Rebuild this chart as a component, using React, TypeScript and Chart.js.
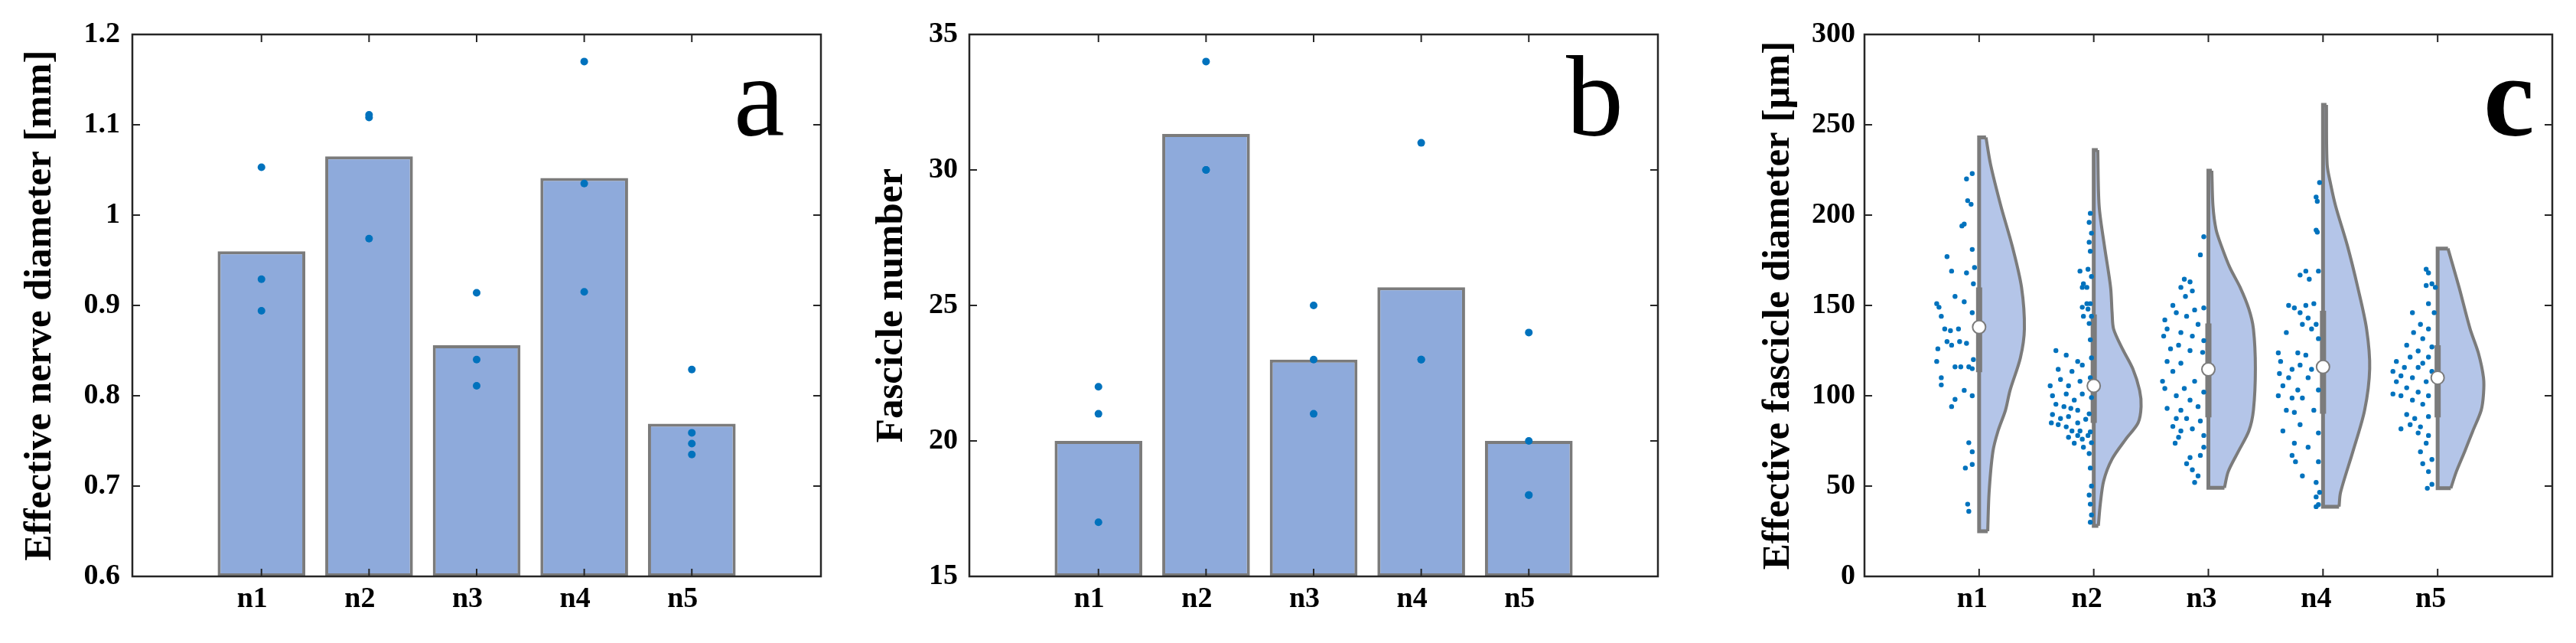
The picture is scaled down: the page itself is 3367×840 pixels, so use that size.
import React, { useEffect, useRef } from 'react';
import { Chart, registerables } from 'chart.js';

Chart.register(...registerables);

// ---------- shared ----------
const categories = ['n1', 'n2', 'n3', 'n4', 'n5'];
const categoryPositions = [1, 2, 3, 4, 5];

// ---------- panel a: effective nerve diameter [mm] ----------
const nerveTicks = [0.6, 0.7, 0.8, 0.9, 1.0, 1.1, 1.2];
const nerveMeans = [0.96, 1.065, 0.856, 1.041, 0.769];
const nerveSamples = [
  [1.053, 0.929, 0.894],
  [1.111, 1.108, 0.974],
  [0.914, 0.84, 0.811],
  [1.17, 1.035, 0.915],
  [0.829, 0.759, 0.747, 0.735],
];

// ---------- panel b: fascicle number ----------
const fascicleTicks = [15, 20, 25, 30, 35];
const fascicleMeans = [20, 31.33, 23, 25.67, 20];
const fascicleSamples = [
  [22, 21, 17],
  [34, 30, 30],
  [25, 23, 21],
  [31, 23, 23],
  [24, 20, 18, 18],
];

// ---------- panel c: effective fascicle diameter [µm] ----------
const diameterTicks = [0, 50, 100, 150, 200, 250, 300];
const diameterMedians = [138, 105.5, 114.6, 116, 110];
const diameterQuartiles = [
  [113, 160],
  [85, 145],
  [88, 140],
  [90, 147],
  [88, 128],
];
// violin profiles: [value, half width in category units]
const violinN1 = [[25, 0.075], [46.5, 0.087], [69, 0.12], [80.5, 0.165], [92, 0.23], [103, 0.27], [121, 0.36], [137, 0.395], [160, 0.37], [182.6, 0.29], [205, 0.19], [228, 0.1], [243, 0.06]];
const violinN2 = [[28, 0.04], [40, 0.057], [53, 0.087], [65, 0.16], [76, 0.28], [85, 0.387], [94, 0.413], [103, 0.4], [115, 0.34], [126, 0.25], [137, 0.173], [146, 0.16], [160, 0.147], [183, 0.093], [205, 0.047], [236, 0.035]];
const violinN3 = [[49, 0.14], [58, 0.173], [69, 0.26], [80.5, 0.353], [92, 0.393], [115, 0.41], [137, 0.393], [148, 0.353], [160, 0.277], [171, 0.187], [183, 0.113], [192, 0.067], [205, 0.04], [224.6, 0.03]];
const violinN4 = [[38.6, 0.14], [46.5, 0.153], [69, 0.26], [92, 0.363], [115, 0.407], [137, 0.38], [160, 0.303], [183, 0.213], [205, 0.11], [217, 0.067], [228, 0.036], [261, 0.03]];
const violinN5 = [[48.8, 0.115], [58, 0.163], [69, 0.235], [80.5, 0.307], [92, 0.38], [101, 0.4], [110, 0.4], [123.7, 0.355], [137, 0.283], [160, 0.187], [181.5, 0.09]];
// jittered samples: [offset from category, value]
const dotsN1 = [[-0.06, 223], [-0.11, 220], [-0.1, 208], [-0.07, 206], [-0.13, 195], [-0.15, 194], [-0.28, 177], [-0.06, 181], [-0.24, 169], [-0.11, 168], [-0.04, 171], [-0.05, 162], [-0.37, 151], [-0.35, 149], [-0.21, 155], [-0.13, 152], [-0.33, 144], [-0.06, 146], [-0.3, 137], [-0.25, 136], [-0.18, 137], [-0.28, 130], [-0.17, 130], [-0.11, 129], [-0.36, 126], [-0.24, 128], [-0.37, 119], [-0.21, 116], [-0.16, 116], [-0.09, 116], [-0.06, 115], [-0.33, 110], [-0.33, 106], [-0.13, 103], [-0.06, 100], [-0.21, 98], [-0.24, 94], [-0.09, 74], [-0.12, 60], [-0.1, 40], [-0.09, 36], [-0.06, 69], [-0.06, 62], [-0.05, 120]];
const dotsN2 = [[-0.03, 201], [-0.04, 196], [-0.02, 190], [-0.04, 185], [-0.03, 180], [-0.05, 170], [-0.02, 166], [-0.06, 160], [-0.03, 151], [-0.05, 148], [-0.02, 144], [-0.04, 140], [-0.03, 131], [-0.02, 121], [-0.03, 110], [-0.02, 99], [-0.04, 90], [-0.03, 80], [-0.02, 74], [-0.04, 68], [-0.03, 60], [-0.02, 50], [-0.04, 45], [-0.03, 40], [-0.02, 34], [-0.03, 30], [-0.09, 162], [-0.1, 160], [-0.06, 151], [-0.1, 149], [-0.09, 144], [-0.12, 169], [-0.33, 125], [-0.24, 122.5], [-0.14, 119], [-0.31, 114.6], [-0.19, 113.5], [-0.1, 117], [-0.29, 109], [-0.38, 105.5], [-0.22, 105.5], [-0.12, 108], [-0.36, 100], [-0.24, 101], [-0.17, 97.6], [-0.1, 101], [-0.33, 95.3], [-0.26, 94], [-0.2, 93], [-0.14, 92], [-0.36, 89.6], [-0.29, 87.4], [-0.22, 88.5], [-0.14, 85], [-0.07, 87], [-0.31, 84], [-0.24, 82.8], [-0.19, 80.5], [-0.14, 78], [-0.1, 76], [-0.17, 73.7], [-0.09, 71.5], [-0.05, 78], [-0.12, 80.5], [-0.22, 77], [-0.37, 85]];
const dotsN3 = [[-0.04, 188], [-0.07, 178], [-0.21, 164.5], [-0.16, 163], [-0.24, 160], [-0.14, 158], [-0.2, 155], [-0.31, 150], [-0.28, 146], [-0.12, 147.5], [-0.04, 148.6], [-0.38, 142], [-0.19, 144], [-0.09, 139.5], [-0.36, 137], [-0.24, 135], [-0.39, 133], [-0.14, 133], [-0.04, 130.5], [-0.26, 128], [-0.33, 126], [-0.16, 125], [-0.05, 124], [-0.36, 119], [-0.24, 118], [-0.31, 113.5], [-0.4, 108], [-0.12, 108], [-0.38, 104], [-0.21, 104], [-0.04, 102], [-0.28, 100], [-0.16, 97.6], [-0.36, 93], [-0.24, 92], [-0.09, 94], [-0.28, 87.4], [-0.19, 87.4], [-0.07, 86], [-0.31, 83], [-0.24, 80.5], [-0.14, 81.7], [-0.26, 77], [-0.29, 73.7], [-0.04, 78], [-0.04, 71.5], [-0.07, 67], [-0.16, 65.8], [-0.19, 62.4], [-0.14, 59], [-0.09, 55.6], [-0.12, 52]];
const dotsN4 = [[-0.03, 218], [-0.06, 210], [-0.05, 207.6], [-0.06, 191.7], [-0.05, 190.6], [-0.04, 169], [-0.15, 169], [-0.2, 166.8], [-0.12, 164.5], [-0.3, 150], [-0.25, 148.6], [-0.15, 150], [-0.08, 151], [-0.2, 146], [-0.13, 143], [-0.06, 139.5], [-0.18, 139.5], [-0.32, 135], [-0.1, 137], [-0.04, 131.6], [-0.39, 123.7], [-0.22, 123.7], [-0.15, 122.5], [-0.37, 119], [-0.2, 117], [-0.1, 114.6], [-0.27, 114.6], [-0.38, 112.3], [-0.3, 110], [-0.13, 110], [-0.35, 105.5], [-0.22, 103.2], [-0.04, 103.2], [-0.39, 100], [-0.27, 98.7], [-0.18, 98.7], [-0.32, 92], [-0.25, 90.8], [-0.08, 92], [-0.35, 80.5], [-0.2, 84], [-0.04, 79.4], [-0.25, 73.7], [-0.13, 71.5], [-0.27, 67], [-0.24, 63.5], [-0.04, 63.5], [-0.18, 55.6], [-0.06, 52], [-0.03, 46.5], [-0.06, 44], [-0.04, 39.7], [-0.06, 38.6]];
const dotsN5 = [[-0.1, 170], [-0.08, 168], [-0.05, 162], [-0.1, 161], [-0.02, 160], [-0.22, 146], [-0.08, 151], [-0.03, 146], [-0.15, 139.5], [-0.08, 137], [-0.21, 135], [-0.13, 131.6], [-0.27, 128], [-0.05, 127], [-0.17, 124.8], [-0.08, 121.4], [-0.24, 121.4], [-0.36, 119], [-0.13, 118], [-0.29, 115.7], [-0.17, 115.7], [-0.05, 113.5], [-0.39, 113.5], [-0.32, 111], [-0.22, 110], [-0.36, 107.8], [-0.1, 107.8], [-0.27, 104.4], [-0.17, 102], [-0.39, 101], [-0.32, 100], [-0.08, 100], [-0.22, 97.6], [-0.13, 95.3], [-0.27, 89.6], [-0.2, 87.4], [-0.08, 88.5], [-0.24, 84], [-0.15, 82.8], [-0.32, 81.7], [-0.17, 79.4], [-0.08, 78], [-0.1, 73.7], [-0.15, 69], [-0.05, 64.7], [-0.13, 62.4], [-0.08, 58], [-0.05, 51], [-0.09, 48.8]];

const violins = [violinN1, violinN2, violinN3, violinN4, violinN5];
const diameterDots = [dotsN1, dotsN2, dotsN3, dotsN4, dotsN5];

// ---------- styling ----------
const SERIF = "'Liberation Serif', 'Times New Roman', Times, serif";
const AXIS_COLOR = '#262626';
const BAR_FILL = '#8eaadb';
const EDGE_GREY = '#7b7b7b';
const DOT_BLUE = '#0072bd';
const VIOLIN_FILL = '#b4c5e8';
const TICK_FONT = { family: SERIF, size: 38, weight: 'bold' as const };
const TITLE_FONT = { family: SERIF, size: 51, weight: 'bold' as const };

const matlabBox = {
  id: 'matlabBox',
  afterDatasetsDraw(chart: any) {
    const { ctx, chartArea, scales } = chart;
    const { left, right, top, bottom } = chartArea;
    const x = scales.x;
    const y = scales.y;
    const len = 10;
    ctx.save();
    ctx.strokeStyle = AXIS_COLOR;
    ctx.lineWidth = 2;
    ctx.beginPath();
    for (const t of x.ticks) {
      const px = x.getPixelForValue(t.value);
      ctx.moveTo(px, bottom);
      ctx.lineTo(px, bottom - len);
      ctx.moveTo(px, top);
      ctx.lineTo(px, top + len);
    }
    for (const t of y.ticks) {
      const py = y.getPixelForValue(t.value);
      ctx.moveTo(left, py);
      ctx.lineTo(left + len, py);
      ctx.moveTo(right, py);
      ctx.lineTo(right - len, py);
    }
    ctx.stroke();
    ctx.lineWidth = 2.5;
    ctx.strokeRect(left, top, right - left, bottom - top);
    ctx.restore();
  },
};

function panelLetter(text: string, dx: number, dy: number, weight: string) {
  return {
    id: 'panelLetter',
    afterDraw(chart: any) {
      const { ctx, chartArea } = chart;
      ctx.save();
      ctx.font = `${weight} 150px ${SERIF}`;
      ctx.fillStyle = '#000';
      ctx.textAlign = 'left';
      ctx.textBaseline = 'alphabetic';
      ctx.fillText(text, chartArea.right + dx, chartArea.top + dy);
      ctx.restore();
    },
  };
}

type AxisOpts = {
  xMin: number;
  xMax: number;
  yMin: number;
  yMax: number;
  yTicks: number[];
  yTitle: string;
  yFormat: (v: number) => string;
  leftWidth: number;
  titlePad: number;
  tickPad: number;
  labelOffset: number;
  rightPad: number;
};

function buildOptions(o: AxisOpts) {
  return {
    animation: false,
    responsive: false,
    maintainAspectRatio: false,
    events: [],
    layout: { padding: { left: 0, right: o.rightPad, top: 45, bottom: 0 } },
    plugins: { legend: { display: false }, tooltip: { enabled: false } },
    scales: {
      x: {
        type: 'linear',
        min: o.xMin,
        max: o.xMax,
        offset: false,
        grid: { display: false, drawTicks: false },
        border: { display: false },
        afterBuildTicks: (s: any) => {
          s.ticks = categoryPositions.map((v) => ({ value: v }));
        },
        afterFit: (s: any) => {
          s.height = 87;
        },
        ticks: {
          autoSkip: false,
          maxRotation: 0,
          padding: 7,
          labelOffset: o.labelOffset,
          color: '#000',
          font: TICK_FONT,
          callback: (_v: any, i: number) => categories[i],
        },
      },
      y: {
        type: 'linear',
        min: o.yMin,
        max: o.yMax,
        beginAtZero: false,
        grid: { display: false, drawTicks: false },
        border: { display: false },
        afterBuildTicks: (s: any) => {
          s.ticks = o.yTicks.map((v) => ({ value: v }));
        },
        afterFit: (s: any) => {
          s.width = o.leftWidth;
        },
        ticks: {
          padding: o.tickPad,
          color: '#000',
          font: TICK_FONT,
          callback: (v: any) => o.yFormat(Number(v)),
        },
        title: {
          display: true,
          text: o.yTitle,
          color: '#000',
          font: TITLE_FONT,
          padding: { top: o.titlePad, bottom: 0 },
        },
      },
    },
  };
}

function barConfig(
  means: number[],
  samples: number[][],
  axis: AxisOpts,
  letter: string,
  letterDx: number
) {
  const dots: { x: number; y: number }[] = [];
  samples.forEach((arr, i) => arr.forEach((v) => dots.push({ x: categoryPositions[i], y: v })));
  return {
    type: 'bar',
    data: {
      datasets: [
        {
          type: 'scatter',
          data: dots,
          backgroundColor: DOT_BLUE,
          borderWidth: 0,
          pointRadius: 5,
          order: 1,
        },
        {
          type: 'bar',
          data: means.map((m, i) => ({ x: categoryPositions[i], y: m })),
          backgroundColor: BAR_FILL,
          borderColor: EDGE_GREY,
          borderWidth: 4,
          borderSkipped: false,
          base: axis.yMin,
          barPercentage: 1,
          categoryPercentage: 0.815,
          order: 2,
        },
      ],
    },
    options: buildOptions(axis),
    plugins: [matlabBox, panelLetter(letter, letterDx, 132, 'normal')],
  };
}

function violinConfig() {
  const datasets: any[] = [];
  violins.forEach((prof, i) => {
    const k = categoryPositions[i];
    const first = prof[0];
    const last = prof[prof.length - 1];
    datasets.push({
      type: 'line',
      indexAxis: 'y',
      data: prof.map(([v, w]) => ({ x: k + w, y: v })),
      fill: { value: k },
      backgroundColor: VIOLIN_FILL,
      borderColor: EDGE_GREY,
      borderWidth: 4,
      pointRadius: 0,
      tension: 0.3,
      order: 6,
    });
    datasets.push({
      type: 'line',
      indexAxis: 'y',
      data: [
        { x: k + first[1], y: first[0] },
        { x: k, y: first[0] },
        { x: k, y: last[0] },
        { x: k + last[1], y: last[0] },
      ],
      fill: false,
      borderColor: EDGE_GREY,
      borderWidth: 5,
      borderJoinStyle: 'miter',
      pointRadius: 0,
      tension: 0,
      order: 5,
    });
    datasets.push({
      type: 'line',
      data: [
        { x: k, y: diameterQuartiles[i][0] },
        { x: k, y: diameterQuartiles[i][1] },
      ],
      fill: false,
      borderColor: EDGE_GREY,
      borderWidth: 8,
      borderCapStyle: 'butt',
      pointRadius: 0,
      order: 4,
    });
  });
  const dots: { x: number; y: number }[] = [];
  diameterDots.forEach((arr, i) =>
    arr.forEach(([dx, v]) => dots.push({ x: categoryPositions[i] + dx, y: v }))
  );
  datasets.push({
    type: 'scatter',
    data: dots,
    backgroundColor: DOT_BLUE,
    borderWidth: 0,
    pointRadius: 3.2,
    order: 3,
  });
  datasets.push({
    type: 'scatter',
    data: diameterMedians.map((m, i) => ({ x: categoryPositions[i], y: m })),
    backgroundColor: '#ffffff',
    borderColor: EDGE_GREY,
    borderWidth: 2,
    pointRadius: 8.5,
    order: 1,
  });
  return {
    type: 'line',
    data: { datasets },
    options: buildOptions({
      xMin: 0,
      xMax: 6,
      yMin: 0,
      yMax: 300,
      yTicks: diameterTicks,
      yTitle: 'Effective fascicle diameter [µm]',
      yFormat: (v) => String(v),
      leftWidth: 197,
      titlePad: 54,
      tickPad: 12,
      labelOffset: -9,
      rightPad: 31,
    }),
    plugins: [matlabBox, panelLetter('c', -90, 132, 'bold')],
  };
}

function ChartCanvas({ makeConfig, left, width }: { makeConfig: () => any; left: number; width: number }) {
  const ref = useRef<HTMLCanvasElement>(null);
  useEffect(() => {
    let chart: Chart | null = null;
    let cancelled = false;
    const create = () => {
      if (cancelled || !ref.current) return;
      chart = new Chart(ref.current, makeConfig());
    };
    const fontsApi = (document as any).fonts;
    if (fontsApi && fontsApi.load) {
      Promise.all([
        fontsApi.load(`bold 38px 'Liberation Serif'`),
        fontsApi.load(`150px 'Liberation Serif'`),
      ]).then(create, create);
    } else {
      create();
    }
    return () => {
      cancelled = true;
      if (chart) chart.destroy();
    };
  }, []);
  return (
    <canvas
      ref={ref}
      width={width}
      height={840}
      style={{ position: 'absolute', left, top: 0, width, height: 840 }}
    />
  );
}

export default function App() {
  const configA = () =>
    barConfig(
      nerveMeans,
      nerveSamples,
      {
        xMin: -0.2,
        xMax: 6.2,
        yMin: 0.6,
        yMax: 1.2,
        yTicks: nerveTicks,
        yTitle: 'Effective nerve diameter [mm]',
        yFormat: (v) => String(Number(v.toFixed(1))),
        leftWidth: 173,
        titlePad: 22,
        tickPad: 16,
        labelOffset: -12,
        rightPad: 47,
      },
      'a',
      -114
    );
  const configB = () =>
    barConfig(
      fascicleMeans,
      fascicleSamples,
      {
        xMin: -0.2,
        xMax: 6.2,
        yMin: 15,
        yMax: 35,
        yTicks: fascicleTicks,
        yTitle: 'Fascicle number',
        yFormat: (v) => String(v),
        leftWidth: 147,
        titlePad: 15,
        tickPad: 15,
        labelOffset: -12,
        rightPad: 73,
      },
      'b',
      -120
    );
  return (
    <div style={{ position: 'absolute', left: 0, top: 0, width: 3367, height: 840, background: '#fff' }}>
      <ChartCanvas makeConfig={configA} left={0} width={1120} />
      <ChartCanvas makeConfig={configB} left={1120} width={1120} />
      <ChartCanvas makeConfig={violinConfig} left={2240} width={1127} />
    </div>
  );
}
